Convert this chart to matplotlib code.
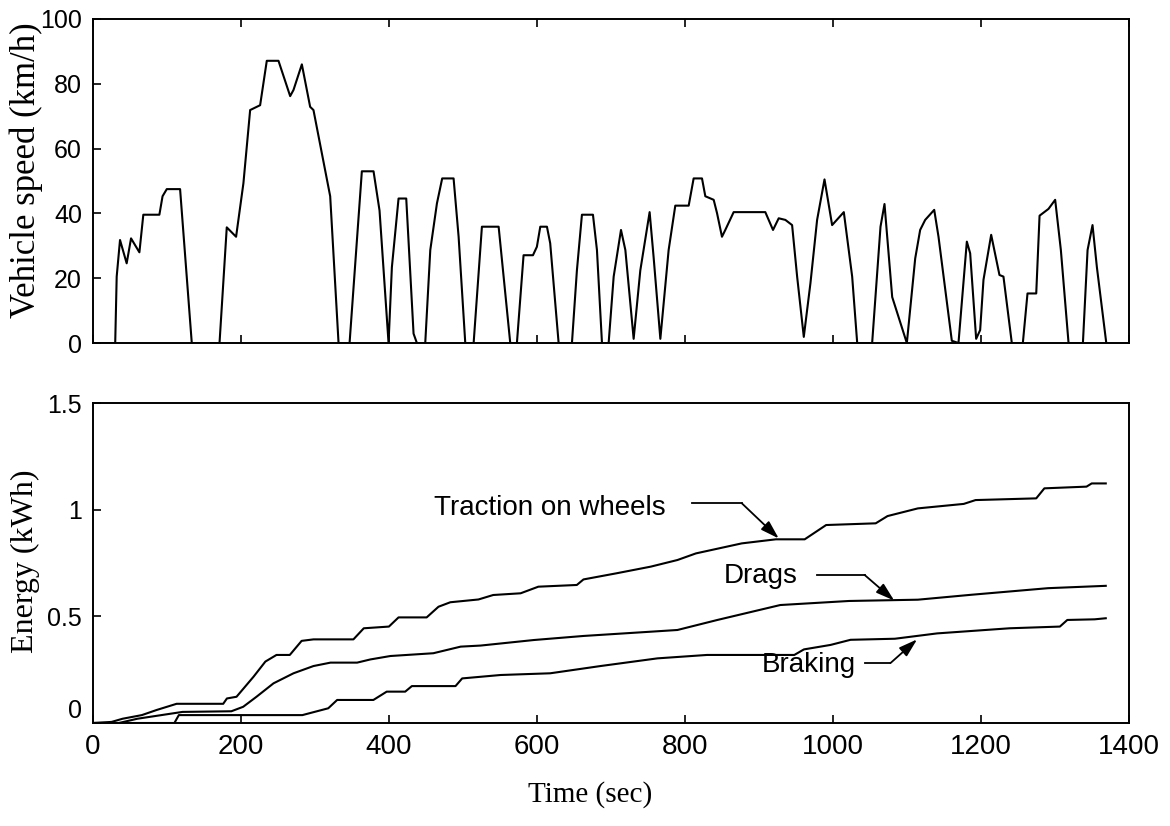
import matplotlib
matplotlib.use('Agg')
import matplotlib.pyplot as plt

plt.rcParams['font.family'] = ['Liberation Sans', 'DejaVu Sans']

# drive cycle: time (s) vs vehicle speed (km/h)
speed_time = [0, 30, 32, 36.5, 45.5, 51.4, 62.7, 68, 89.7, 94, 99.7, 117.7, 133.5,
              171, 180.8, 193.4, 203.3, 212.4, 225.9, 234.9, 250.7, 266.5, 271,
              282.3, 293.5, 298, 320.6, 331.9, 346.8, 363.4, 379.2, 387.3, 399.5,
              404, 413, 423.4, 433.3, 437.8, 449.1, 455.9, 464.9, 472, 487.4,
              494.2, 503.2, 514.5, 525.7, 548.3, 555, 564, 573, 582, 594.7, 600,
              604.6, 613.6, 618, 629.4, 647.4, 654.1, 660.9, 675.8, 681.2, 688,
              697, 703.8, 713.7, 719.6, 730.8, 739.8, 752.4, 757.8, 766.9, 778.1,
              787.1, 805.2, 811.9, 823.2, 827.7, 839, 843.5, 850.2, 854.7, 866,
              908.8, 919.2, 926.9, 935.9, 945, 951.8, 960.8, 969.8, 978.8, 988.8,
              999.1, 1014.9, 1026.2, 1033, 1053.2, 1064.5, 1069.9, 1080.3, 1100.1,
              1111.4, 1118.1, 1124.9, 1137.1, 1142.9, 1160.9, 1169.9, 1181.2,
              1185.7, 1193.8, 1199.2, 1203.7, 1214.1, 1225.3, 1230.7, 1242, 1256.9,
              1263.2, 1275, 1279.5, 1291.6, 1300.6, 1308.3, 1318.7, 1338.1, 1344.4,
              1351.1, 1357, 1369.7]
speed_kmh = [0, 0, 20.5, 31.8, 24.6, 32.3, 28, 39.6, 39.6, 45.3, 47.5, 47.5, 0,
             0, 35.7, 32.8, 49.3, 71.9, 73.4, 87.1, 87.1, 76.2, 78.1,
             86, 72.9, 71.9, 45.3, 0, 0, 53, 53, 40.9, 0,
             23.4, 44.6, 44.6, 2.9, 0, 0, 28.7, 43.1, 50.8, 50.8,
             32.8, 0, 0, 35.9, 35.9, 20.5, 0, 0, 27.1, 27.1, 29.7,
             35.9, 35.9, 30.8, 0, 0, 22.4, 39.6, 39.6, 28.7, 0,
             0, 20.5, 34.9, 28.7, 1.3, 22.4, 40.4, 26.5, 1.3, 28.7,
             42.4, 42.4, 50.8, 50.8, 45.3, 44.2, 40.1, 32.8, 34.9, 40.4,
             40.4, 34.9, 38.5, 38, 36.4, 20.5, 1.9, 18.5, 38, 50.5,
             36.4, 40.4, 20.5, 0, 0, 35.9, 42.9, 14.2, 0,
             26.1, 34.9, 38, 41.1, 32.8, 0.7, 0, 31.3,
             27.7, 1.3, 4, 19.5, 33.4, 21, 20.5, 0, 0,
             15.3, 15.3, 39.3, 41.4, 44.2, 28.7, 0, 0, 28.7,
             36.4, 23.4, 0]

# cumulative energy (kWh)
traction_time = [0, 25, 40, 66, 86, 113, 176, 181, 194, 217, 233, 248, 266, 282,
                 298, 352, 366, 400, 413, 451, 467, 483, 521, 541, 578, 602, 654,
                 663, 708, 754, 790, 815, 877, 923, 962, 991, 1058, 1074, 1115,
                 1177, 1193, 1275, 1286, 1343, 1350, 1369]
traction_kwh = [0, 0.005, 0.02, 0.037, 0.061, 0.09, 0.09, 0.115, 0.123, 0.217,
                0.288, 0.319, 0.319, 0.385, 0.392, 0.392, 0.444, 0.452, 0.495,
                0.495, 0.545, 0.566, 0.579, 0.6, 0.608, 0.639, 0.647, 0.673, 0.702,
                0.733, 0.764, 0.795, 0.842, 0.861, 0.861, 0.928, 0.936, 0.97,
                1.006, 1.027, 1.045, 1.053, 1.1, 1.108, 1.123, 1.123]

drag_time = [0, 35, 60, 121, 187, 203, 221, 244, 271, 298, 321, 357, 375, 402,
             460, 497, 524, 596, 663, 754, 790, 844, 929, 1022, 1115, 1187, 1291,
             1369]
drag_kwh = [0, 0, 0.02, 0.052, 0.055, 0.076, 0.123, 0.186, 0.233, 0.267, 0.283,
            0.283, 0.298, 0.314, 0.327, 0.358, 0.363, 0.389, 0.408, 0.428, 0.436,
            0.483, 0.553, 0.572, 0.578, 0.601, 0.632, 0.643]

brake_time = [0, 110, 116, 283, 318, 330, 379, 397, 422, 431, 490, 499, 551, 618,
              686, 763, 830, 948, 961, 997, 1024, 1084, 1141, 1239, 1307, 1317,
              1354, 1369]
brake_kwh = [0, 0, 0.037, 0.037, 0.069, 0.108, 0.108, 0.147, 0.147, 0.173, 0.173,
             0.209, 0.225, 0.233, 0.267, 0.303, 0.319, 0.319, 0.345, 0.366, 0.39,
             0.395, 0.42, 0.444, 0.452, 0.483, 0.486, 0.491]

time_ticks = [0, 200, 400, 600, 800, 1000, 1200, 1400]
speed_ticks = [0, 20, 40, 60, 80, 100]
energy_ticks = [0, 0.5, 1, 1.5]
energy_ticklabels = ['0', '0.5', '1', '1.5']

fig = plt.figure(figsize=(11.7, 8.26), dpi=100)
ax1 = fig.add_axes([0.0795, 0.5847, 0.8852, 0.3923])
ax2 = fig.add_axes([0.0795, 0.1247, 0.8852, 0.3874])

lw = 1.5
for ax in (ax1, ax2):
    ax.set_xlim(0, 1400)
    ax.set_xticks(time_ticks)
    for sp in ax.spines.values():
        sp.set_linewidth(1.4)
    ax.tick_params(direction='in', length=6, width=1.2, labelsize=18, pad=8)

# speed profile
ax1.plot(speed_time, speed_kmh, color='black', lw=lw)
ax1.set_ylim(0, 100)
ax1.set_yticks(speed_ticks)
ax1.tick_params(axis='x', top=True, labelbottom=False)
ax1.set_ylabel('Vehicle speed (km/h)', family='Liberation Serif', fontsize=25)
ax1.yaxis.label.set_va('center')
ax1.yaxis.set_label_coords(-0.064, 0.534)

# energy curves
ax2.plot(traction_time, traction_kwh, color='black', lw=lw)
ax2.plot(drag_time, drag_kwh, color='black', lw=lw)
ax2.plot(brake_time, brake_kwh, color='black', lw=lw)
ax2.set_ylim(0, 1.5)
ax2.set_yticks(energy_ticks)
ax2.set_yticklabels(energy_ticklabels)
ax2.tick_params(axis='x', labelsize=20)
ax2.get_yticklabels()[0].set_va('bottom')
ax2.set_ylabel('Energy (kWh)', family='Liberation Serif', fontsize=23)
ax2.yaxis.label.set_va('center')
ax2.yaxis.set_label_coords(-0.065, 0.506)

fig.text(0.504, 0.038, 'Time (sec)', family='Liberation Serif', fontsize=21,
         ha='center', va='center')

# callouts: label, elbow line, arrow to curve
arrow = dict(arrowstyle='-|>,head_length=0.8,head_width=0.25', color='black',
             lw=1.3, mutation_scale=14, shrinkA=0, shrinkB=0)
callouts = [
    ('Traction on wheels', (774, 0.975), (810, 877, 1.03), (927, 0.865)),
    ('Drags', (952, 0.656), (978, 1043, 0.694), (1083, 0.574)),
    ('Braking', (1031, 0.239), (1044, 1078, 0.281), (1114, 0.392)),
]
for label, (tx, ty), (x0, x1, yl), tip in callouts:
    ax2.text(tx, ty, label, fontsize=20, ha='right', va='baseline')
    ax2.plot([x0, x1], [yl, yl], color='black', lw=1.3)
    ax2.annotate('', xy=tip, xytext=(x1, yl), arrowprops=arrow)

fig.savefig('out.png', dpi=100)
